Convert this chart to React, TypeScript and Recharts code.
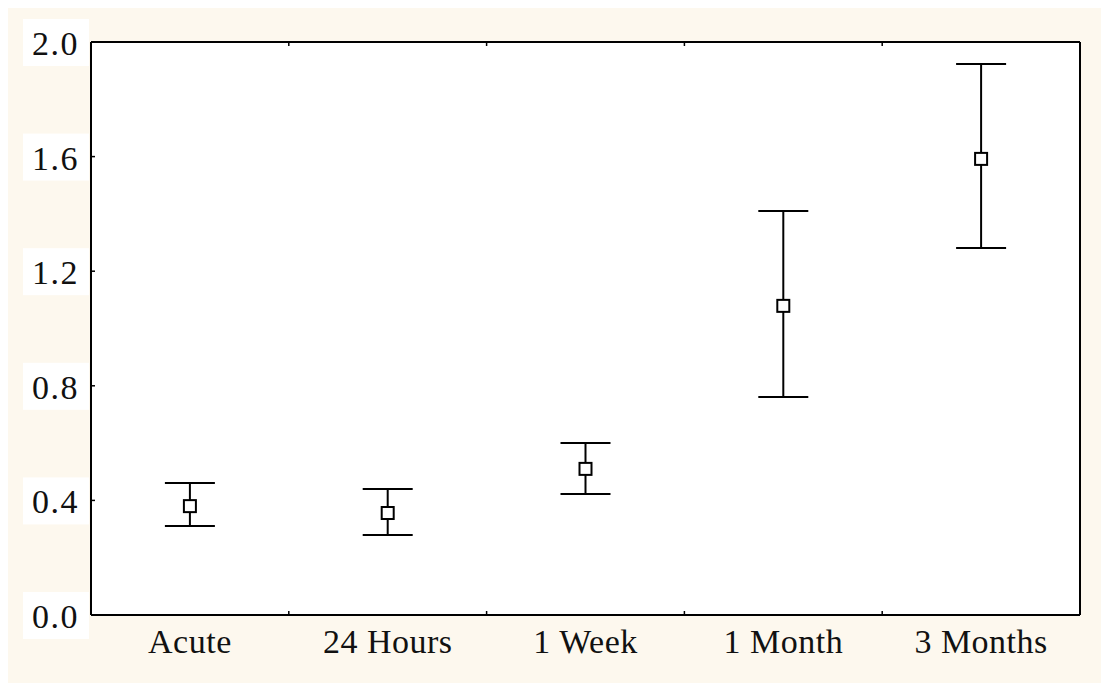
import React from 'react';
import { ComposedChart, Scatter, ErrorBar, XAxis, YAxis, CartesianGrid } from 'recharts';

const categories = ['Acute', '24 Hours', '1 Week', '1 Month', '3 Months'];
const means = [0.38, 0.356, 0.51, 1.079, 1.592];
const lower = [0.311, 0.279, 0.422, 0.761, 1.281];
const upper = [0.461, 0.44, 0.6, 1.41, 1.923];
const yTicks = [0, 0.4, 0.8, 1.2, 1.6, 2.0];
const bandEdges = [1, 2, 3, 4];

const data = categories.map((name, i) => ({
  name,
  pos: i + 0.5,
  mean: means[i],
  err: [means[i] - lower[i], upper[i] - means[i]],
}));

// label positions (band centres) plus band edges, which only get a small inward tick
const xTicks = [...data.map((d) => d.pos), ...bandEdges].sort((a, b) => a - b);

const textStyle = { fontFamily: '"Liberation Serif", "Times New Roman", serif', fontSize: 34 };
const TICK = 4;

const YTick = (props: any) => {
  const { x, y, payload } = props;
  return (
    <g>
      <rect x={15} y={y - 23} width={66} height={47} fill="#fff" />
      <line x1={x} x2={x + TICK} y1={y} y2={y} stroke="#000" strokeWidth={1.5} />
      <text x={71} y={y + 13} textAnchor="end" style={textStyle} fill="#111" letterSpacing={1.5}>
        {Number(payload.value).toFixed(1)}
      </text>
    </g>
  );
};

const RightTick = (props: any) => {
  const { x, y } = props;
  return <line x1={x} x2={x - TICK} y1={y} y2={y} stroke="#000" strokeWidth={1.5} />;
};

const TopTick = (props: any) => {
  const { x, y } = props;
  return <line x1={x} x2={x} y1={y} y2={y + TICK} stroke="#000" strokeWidth={1.5} />;
};

const XTick = (props: any) => {
  const { x, y, payload } = props;
  if (Number.isInteger(payload.value)) {
    return <line x1={x} x2={x} y1={y} y2={y - TICK} stroke="#000" strokeWidth={1.5} />;
  }
  const idx = Math.round(payload.value - 0.5);
  return (
    <text x={x} y={y + 38} textAnchor="middle" style={textStyle} fill="#111" letterSpacing={0.5}>
      {categories[idx]}
    </text>
  );
};

const SquareDot = (props: any) => {
  const { cx, cy } = props;
  return <rect x={cx - 6} y={cy - 6} width={12} height={12} fill="#fff" stroke="#000" strokeWidth={2} />;
};

const axisLine = { stroke: '#000', strokeWidth: 2 };

export default function App() {
  return (
    <div style={{ background: '#fff', marginTop: -3 }}>
      <ComposedChart
        width={1101}
        height={678}
        data={data}
        margin={{ top: 36, right: 28, bottom: 0, left: 0 }}
        style={{ background: '#fdf8ee' }}
      >
        <CartesianGrid fill="#fff" horizontal={false} vertical={false} />
        <XAxis
          type="number"
          dataKey="pos"
          domain={[0, 5]}
          ticks={xTicks}
          height={68}
          tickSize={0}
          tickMargin={0}
          tickLine={false}
          axisLine={axisLine}
          tick={<XTick />}
          interval={0}
        />
        <XAxis
          xAxisId="top"
          type="number"
          dataKey="pos"
          domain={[0, 5]}
          ticks={bandEdges}
          orientation="top"
          height={1}
          tickSize={0}
          tickMargin={0}
          tickLine={false}
          tick={<TopTick />}
          axisLine={axisLine}
          interval={0}
        />
        <YAxis
          type="number"
          domain={[0, 2]}
          ticks={yTicks}
          width={83}
          tickSize={0}
          tickMargin={0}
          tickLine={false}
          axisLine={axisLine}
          tick={<YTick />}
          interval={0}
        />
        <YAxis
          yAxisId="r"
          orientation="right"
          type="number"
          domain={[0, 2]}
          ticks={yTicks}
          width={1}
          tickSize={0}
          tickMargin={0}
          tickLine={false}
          tick={<RightTick />}
          axisLine={axisLine}
          interval={0}
        />
        <Scatter dataKey="mean" shape={<SquareDot />} isAnimationActive={false}>
          <ErrorBar dataKey="err" direction="y" width={25} stroke="#000" strokeWidth={2} isAnimationActive={false} />
        </Scatter>
      </ComposedChart>
    </div>
  );
}
